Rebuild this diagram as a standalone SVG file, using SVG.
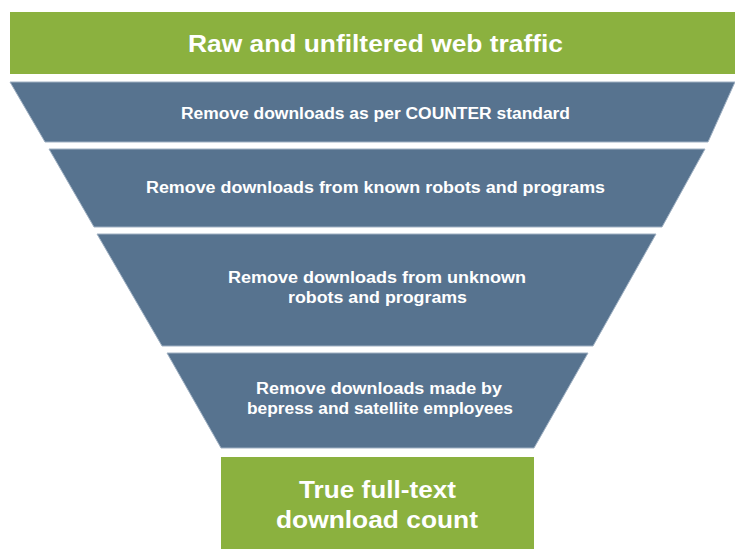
<svg xmlns="http://www.w3.org/2000/svg" width="735" height="549" viewBox="0 0 735 549">
<style>
.g{fill:#8bb13f}
.b{fill:#57738f;stroke:#9fb0c2;stroke-width:1}
.t{fill:#ffffff;font-family:"Liberation Sans",Arial,sans-serif;font-weight:bold;text-anchor:middle}
.s{font-size:16px}
.l{font-size:23px}
</style>
<rect x="0" y="0" width="735" height="549" fill="#ffffff"/>
<g id="raw">
<rect class="g" x="10" y="12" width="725" height="62"/>
<text class="t l" x="375.5" y="52" textLength="375" lengthAdjust="spacingAndGlyphs">Raw and unfiltered web traffic</text>
</g>
<g id="counter">
<polygon class="b" points="10,82 735,82 708,142 45,142"/>
<text class="t s" x="375.5" y="119" textLength="389" lengthAdjust="spacingAndGlyphs">Remove downloads as per COUNTER standard</text>
</g>
<g id="known">
<polygon class="b" points="49,149 705,149 662,227 94,227"/>
<text class="t s" x="375.5" y="193" textLength="459" lengthAdjust="spacingAndGlyphs">Remove downloads from known robots and programs</text>
</g>
<g id="unknown">
<polygon class="b" points="97,234 656,234 593,346 162,346"/>
<text class="t s" x="377" y="283" textLength="298" lengthAdjust="spacingAndGlyphs">Remove downloads from unknown</text>
<text class="t s" x="377.5" y="303" textLength="179" lengthAdjust="spacingAndGlyphs">robots and programs</text>
</g>
<g id="employees">
<polygon class="b" points="167,353 588,353 534,448 221,448"/>
<text class="t s" x="379" y="394" textLength="246" lengthAdjust="spacingAndGlyphs">Remove downloads made by</text>
<text class="t s" x="380" y="414" textLength="266" lengthAdjust="spacingAndGlyphs">bepress and satellite employees</text>
</g>
<g id="result">
<rect class="g" x="221" y="457" width="313" height="92"/>
<text class="t l" x="377.5" y="498" textLength="157" lengthAdjust="spacingAndGlyphs">True full-text</text>
<text class="t l" x="377" y="528" textLength="202" lengthAdjust="spacingAndGlyphs">download count</text>
</g>
</svg>
